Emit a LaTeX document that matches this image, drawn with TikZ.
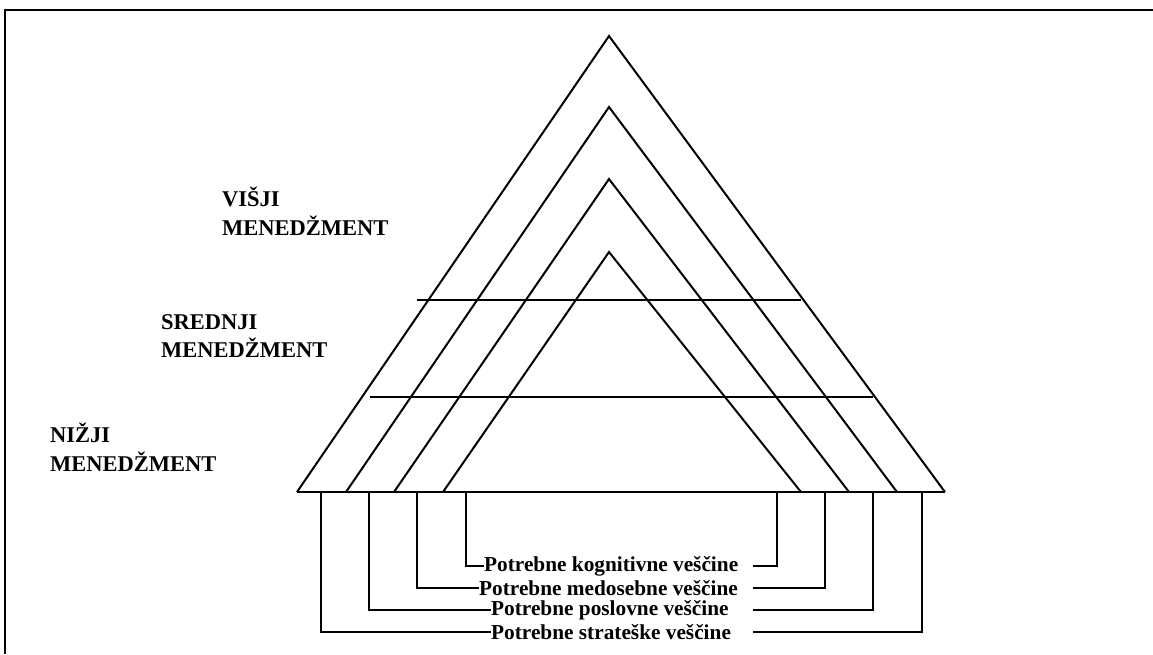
\documentclass[tikz,border=0pt]{standalone}
\usepackage{fontspec}
\setmainfont{Liberation Serif}
\begin{document}
\begin{tikzpicture}[x=1pt,y=-1pt,
  frameline/.style={line width=2.6pt},
  edge/.style={line width=2pt, line join=miter},
  bracket/.style={line width=1.5pt},
  level/.style={font=\fontsize{22.5}{28.5}\selectfont\bfseries, align=left, anchor=west, inner sep=0pt},
  skill/.style={font=\fontsize{21.3}{24}\selectfont\bfseries, anchor=west, inner sep=0pt}]
\useasboundingbox (0,0) rectangle (1153,654);
\fill[white] (0,0) rectangle (1153,654);

% outer frame (top and left sides)
\draw[frameline] (5,654) -- (5,10) -- (1153,10);

% apexes and base corners of the four nested triangles
\coordinate (a1) at (609,36);  \coordinate (l1) at (297,492); \coordinate (r1) at (945,492);
\coordinate (a2) at (609,107); \coordinate (l2) at (346,492); \coordinate (r2) at (897,492);
\coordinate (a3) at (609,179); \coordinate (l3) at (394,492); \coordinate (r3) at (849,492);
\coordinate (a4) at (609,252); \coordinate (l4) at (443,492); \coordinate (r4) at (801,492);

\foreach \i in {1,...,4} \draw[edge] (l\i) -- (a\i) -- (r\i);

% common base
\draw[line width=2.4pt] (l1) -- (r1);

% level separators
\coordinate (s1a) at (417,300); \coordinate (s1b) at (801,300);
\coordinate (s2a) at (370,397); \coordinate (s2b) at (873,397);
\draw[edge] (s1a) -- (s1b);
\draw[edge] (s2a) -- (s2b);

% management level labels
\node[level] (top) at (222,211) {VIŠJI\\MENEDŽMENT};
\node[level] (mid) at (161,336) {SREDNJI\\MENEDŽMENT};
\node[level] (low) at (50,447) {NIŽJI\\MENEDŽMENT};

% drop points under the base
\coordinate (dl1) at (321,492); \coordinate (dr1) at (922,492);
\coordinate (dl2) at (369,492); \coordinate (dr2) at (873,492);
\coordinate (dl3) at (417,492); \coordinate (dr3) at (825,492);
\coordinate (dl4) at (466,492); \coordinate (dr4) at (777,492);

% skill labels
\node[skill] (k4) at (484,566) {Potrebne kognitivne veščine};
\node[skill] (k3) at (479,588) {Potrebne medosebne veščine};
\node[skill] (k2) at (491,610) {Potrebne poslovne veščine};
\node[skill] (k1) at (491,632) {Potrebne strateške veščine};

\foreach \i/\y in {4/566,3/588,2/610,1/632} {
  \coordinate (e\i) at (753,\y);
  \draw[bracket] (dl\i) |- (k\i.west);
  \draw[bracket] (e\i) -| (dr\i);
}
\end{tikzpicture}
\end{document}
